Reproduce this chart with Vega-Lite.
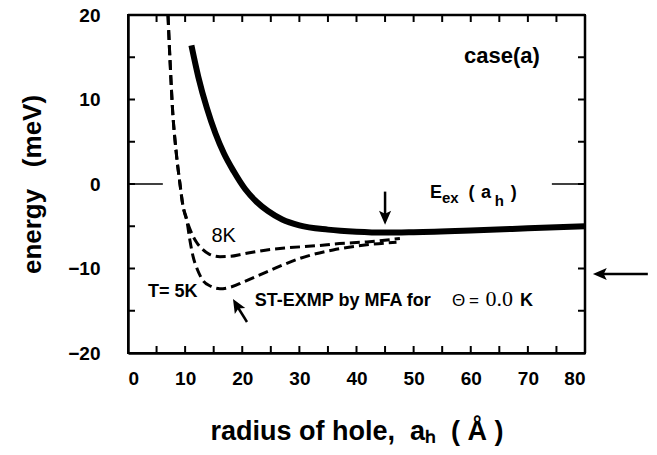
{
  "$schema": "https://vega.github.io/schema/vega-lite/v6.json",
  "width": 457,
  "height": 338,
  "autosize": {"type": "none"},
  "padding": {"left": 128, "top": 15, "right": 72, "bottom": 102},
  "background": "white",
  "config": {"view": {"stroke": "black", "strokeWidth": 2}, "font": "Liberation Sans"},
  "datasets": {
    "curves": [
      {"series": "Eex", "r": 11.1, "E": 16.4}, {"series": "Eex", "r": 12.3, "E": 12.7}, {"series": "Eex", "r": 13.8, "E": 9.0},
      {"series": "Eex", "r": 15.3, "E": 6.0}, {"series": "Eex", "r": 16.8, "E": 3.6}, {"series": "Eex", "r": 18.5, "E": 1.5},
      {"series": "Eex", "r": 20.5, "E": -0.6}, {"series": "Eex", "r": 22.5, "E": -2.1}, {"series": "Eex", "r": 24.5, "E": -3.2},
      {"series": "Eex", "r": 27, "E": -4.2}, {"series": "Eex", "r": 30, "E": -4.9}, {"series": "Eex", "r": 35, "E": -5.4},
      {"series": "Eex", "r": 40, "E": -5.65}, {"series": "Eex", "r": 45, "E": -5.75}, {"series": "Eex", "r": 50, "E": -5.7},
      {"series": "Eex", "r": 60, "E": -5.5}, {"series": "Eex", "r": 70, "E": -5.25}, {"series": "Eex", "r": 80, "E": -5.0},
      {"series": "T8", "r": 7.0, "E": 20}, {"series": "T8", "r": 7.4, "E": 14}, {"series": "T8", "r": 7.8, "E": 8.8},
      {"series": "T8", "r": 8.4, "E": 4}, {"series": "T8", "r": 9.1, "E": 0}, {"series": "T8", "r": 9.6, "E": -2.5},
      {"series": "T8", "r": 10.3, "E": -4.3}, {"series": "T8", "r": 11.0, "E": -5.6}, {"series": "T8", "r": 12, "E": -6.9},
      {"series": "T8", "r": 13, "E": -7.7}, {"series": "T8", "r": 14.2, "E": -8.3}, {"series": "T8", "r": 16.1, "E": -8.6},
      {"series": "T8", "r": 18, "E": -8.55}, {"series": "T8", "r": 20, "E": -8.3}, {"series": "T8", "r": 24.3, "E": -7.8},
      {"series": "T8", "r": 28, "E": -7.55}, {"series": "T8", "r": 33, "E": -7.3}, {"series": "T8", "r": 37, "E": -7.05},
      {"series": "T8", "r": 41.8, "E": -6.85}, {"series": "T8", "r": 47.6, "E": -6.45},
      {"series": "T5", "r": 7.0, "E": 20}, {"series": "T5", "r": 7.4, "E": 14}, {"series": "T5", "r": 7.8, "E": 8.8},
      {"series": "T5", "r": 8.4, "E": 4}, {"series": "T5", "r": 9.1, "E": 0}, {"series": "T5", "r": 9.6, "E": -2.5},
      {"series": "T5", "r": 10.3, "E": -4.3}, {"series": "T5", "r": 10.8, "E": -6.5}, {"series": "T5", "r": 11.4, "E": -8.6},
      {"series": "T5", "r": 12.2, "E": -10.2}, {"series": "T5", "r": 13.1, "E": -11.4}, {"series": "T5", "r": 14.5, "E": -12.1},
      {"series": "T5", "r": 16.1, "E": -12.4}, {"series": "T5", "r": 18, "E": -12.2}, {"series": "T5", "r": 20.2, "E": -11.6},
      {"series": "T5", "r": 24.3, "E": -10.4}, {"series": "T5", "r": 30.1, "E": -8.8}, {"series": "T5", "r": 35.9, "E": -7.8},
      {"series": "T5", "r": 41.8, "E": -7.2}, {"series": "T5", "r": 47, "E": -6.9}
    ],
    "xticks": [{"t": 5}, {"t": 10}, {"t": 15}, {"t": 20}, {"t": 25}, {"t": 30}, {"t": 35}, {"t": 40}, {"t": 45}, {"t": 50}, {"t": 55}, {"t": 60}, {"t": 65}, {"t": 70}, {"t": 75}],
    "yticks": [{"t": -15}, {"t": -10}, {"t": -5}, {"t": 0}, {"t": 5}, {"t": 10}, {"t": 15}],
    "frame": [
      {"r": 0, "E": 20, "r2": 80, "E2": 20},
      {"r": 80, "E": -20, "r2": 80, "E2": 20}
    ]
  },
  "layer": [
    {
      "data": {"name": "curves"},
      "transform": [{"filter": "datum.series === 'Eex'"}],
      "mark": {"type": "line", "color": "black", "strokeWidth": 6, "interpolate": "monotone"},
      "encoding": {
        "x": {"field": "r", "type": "quantitative", "scale": {"domain": [0, 80], "nice": false, "zero": false},
          "axis": {"orient": "bottom", "values": [0,10,20,30,40,50,60,70,80], "grid": false, "domain": true, "domainColor": "black", "domainWidth": 2.5, "ticks": false,
            "labelFont": "Liberation Sans", "labelFontWeight": "bold", "labelFontSize": 19, "labelColor": "black", "labelPadding": 16,
            "title": "radius of hole,\u00a0\u00a0a\u2095\u00a0\u00a0(\u00a0Å\u00a0)", "titleFont": "Liberation Sans", "titleFontSize": 27, "titleFontWeight": "bold",
            "titleColor": "black", "titlePadding": 30}},
        "y": {"field": "E", "type": "quantitative", "scale": {"domain": [-20, 20], "nice": false, "zero": false},
          "axis": {"orient": "left", "values": [-20,-10,0,10,20], "grid": false, "domain": true, "domainColor": "black", "domainWidth": 2.5, "ticks": false,
            "labelFont": "Liberation Sans", "labelFontWeight": "bold", "labelFontSize": 19, "labelColor": "black", "labelPadding": 28,
            "title": "energy\u00a0\u00a0\u00a0(meV)", "titleFont": "Liberation Sans", "titleFontSize": 26, "titleFontWeight": "bold",
            "titleColor": "black", "titlePadding": 22}}
      }
    },
    {
      "data": {"name": "curves"},
      "transform": [{"filter": "datum.series !== 'Eex'"}],
      "mark": {"type": "line", "color": "black", "strokeWidth": 3, "strokeDash": [10, 5], "interpolate": "monotone"},
      "encoding": {
        "x": {"field": "r", "type": "quantitative"},
        "y": {"field": "E", "type": "quantitative"},
        "detail": {"field": "series"}
      }
    },
    {
      "data": {"name": "frame"},
      "mark": {"type": "rule", "color": "black", "strokeWidth": 2.5},
      "encoding": {
        "x": {"field": "r", "type": "quantitative"},
        "x2": {"field": "r2"},
        "y": {"field": "E", "type": "quantitative"},
        "y2": {"field": "E2"}
      }
    },
    {
      "data": {"name": "xticks"},
      "mark": {"type": "tick", "orient": "vertical", "color": "black", "size": 7, "thickness": 2, "yOffset": -3.5, "opacity": 1},
      "encoding": {
        "x": {"field": "t", "type": "quantitative"},
        "y": {"datum": -20, "type": "quantitative"}
      }
    },
    {
      "data": {"name": "xticks"},
      "mark": {"type": "tick", "orient": "vertical", "color": "black", "size": 7, "thickness": 2, "yOffset": 3.5, "opacity": 1},
      "encoding": {
        "x": {"field": "t", "type": "quantitative"},
        "y": {"datum": 20, "type": "quantitative"}
      }
    },
    {
      "data": {"name": "yticks"},
      "mark": {"type": "tick", "orient": "horizontal", "color": "black", "size": 7, "thickness": 2, "xOffset": 3.5, "opacity": 1},
      "encoding": {
        "y": {"field": "t", "type": "quantitative"},
        "x": {"datum": 0, "type": "quantitative"}
      }
    },
    {
      "data": {"name": "yticks"},
      "mark": {"type": "tick", "orient": "horizontal", "color": "black", "size": 7, "thickness": 2, "xOffset": -3.5, "opacity": 1},
      "encoding": {
        "y": {"field": "t", "type": "quantitative"},
        "x": {"datum": 80, "type": "quantitative"}
      }
    },
    {
      "data": {"values": [{"r": 0, "r2": 6.1, "E": 0}, {"r": 74.2, "r2": 80, "E": 0}]},
      "mark": {"type": "rule", "color": "black", "strokeWidth": 1.5},
      "encoding": {
        "x": {"field": "r", "type": "quantitative"},
        "x2": {"field": "r2"},
        "y": {"field": "E", "type": "quantitative"}
      }
    },
    {
      "data": {"values": [
        {"r": 45, "E": -0.9, "r2": 45, "E2": -3.8},
        {"r": 19.15, "E": -14.5, "r2": 20.83, "E2": -16.33},
        {"r": 82.9, "E": -10.65, "r2": 91.0, "E2": -10.65}
      ]},
      "mark": {"type": "rule", "color": "black", "strokeWidth": 2.5},
      "encoding": {
        "x": {"field": "r", "type": "quantitative"},
        "x2": {"field": "r2"},
        "y": {"field": "E", "type": "quantitative"},
        "y2": {"field": "E2"}
      }
    },
    {
      "data": {"values": [
        {"r": 45, "E": -3.79, "dir": 180},
        {"r": 19.15, "E": -14.5, "dir": 329.4},
        {"r": 82.9, "E": -10.65, "dir": 270}
      ]},
      "mark": {"type": "point", "filled": true, "color": "black", "opacity": 1, "size": 300,
        "shape": "M 0 -1 L 0.7 0.6 L 0 0.25 L -0.7 0.6 Z"},
      "encoding": {
        "x": {"field": "r", "type": "quantitative"},
        "y": {"field": "E", "type": "quantitative"},
        "angle": {"field": "dir", "type": "quantitative", "scale": null}
      }
    },
    {
      "data": {"values": [{"r": 72.1, "E": 14.3, "label": "case(a)"}]},
      "mark": {"type": "text", "align": "right", "baseline": "alphabetic", "font": "Liberation Sans", "fontWeight": "bold", "fontSize": 22, "color": "black"},
      "encoding": {
        "x": {"field": "r", "type": "quantitative"},
        "y": {"field": "E", "type": "quantitative"},
        "text": {"field": "label"}
      }
    },
    {
      "data": {"values": [
        {"r": 52.85, "E": -1.66, "label": "E"},
        {"r": 59.6, "E": -1.66, "label": "("},
        {"r": 61.8, "E": -1.66, "label": "a"},
        {"r": 67.0, "E": -1.66, "label": ")"},
        {"r": 3.5, "E": -13.37, "label": "T= 5K"},
        {"r": 68.6, "E": -14.44, "label": "K"}
      ]},
      "mark": {"type": "text", "align": "left", "baseline": "alphabetic", "font": "Liberation Sans", "fontWeight": "bold", "fontSize": 18, "color": "black"},
      "encoding": {
        "x": {"field": "r", "type": "quantitative"},
        "y": {"field": "E", "type": "quantitative"},
        "text": {"field": "label"}
      }
    },
    {
      "data": {"values": [
        {"r": 54.95, "E": -2.3, "label": "ex"},
        {"r": 64.2, "E": -2.6, "label": "h"}
      ]},
      "mark": {"type": "text", "align": "left", "baseline": "alphabetic", "font": "Liberation Sans", "fontWeight": "bold", "fontSize": 15, "color": "black"},
      "encoding": {
        "x": {"field": "r", "type": "quantitative"},
        "y": {"field": "E", "type": "quantitative"},
        "text": {"field": "label"}
      }
    },
    {
      "data": {"values": [{"r": 22.2, "E": -14.44, "label": "ST-EXMP by MFA for"}]},
      "mark": {"type": "text", "align": "left", "baseline": "alphabetic", "font": "Liberation Sans", "fontWeight": "bold", "fontSize": 18, "color": "black"},
      "encoding": {
        "x": {"field": "r", "type": "quantitative"},
        "y": {"field": "E", "type": "quantitative"},
        "text": {"field": "label"}
      }
    },
    {
      "data": {"values": [{"r": 14.6, "E": -6.86, "label": "8K"}]},
      "mark": {"type": "text", "align": "left", "baseline": "alphabetic", "font": "Liberation Sans", "fontSize": 20, "color": "black"},
      "encoding": {
        "x": {"field": "r", "type": "quantitative"},
        "y": {"field": "E", "type": "quantitative"},
        "text": {"field": "label"}
      }
    },
    {
      "data": {"values": [
        {"r": 56.7, "E": -14.44, "label": "Θ"},
        {"r": 59.7, "E": -14.44, "label": "="}
      ]},
      "mark": {"type": "text", "align": "left", "baseline": "alphabetic", "font": "Liberation Sans", "fontSize": 17, "color": "black"},
      "encoding": {
        "x": {"field": "r", "type": "quantitative"},
        "y": {"field": "E", "type": "quantitative"},
        "text": {"field": "label"}
      }
    },
    {
      "data": {"values": [{"r": 62.6, "E": -14.44, "label": "0.0"}]},
      "mark": {"type": "text", "align": "left", "baseline": "alphabetic", "font": "Liberation Serif", "fontSize": 22, "color": "black"},
      "encoding": {
        "x": {"field": "r", "type": "quantitative"},
        "y": {"field": "E", "type": "quantitative"},
        "text": {"field": "label"}
      }
    }
  ]
}
